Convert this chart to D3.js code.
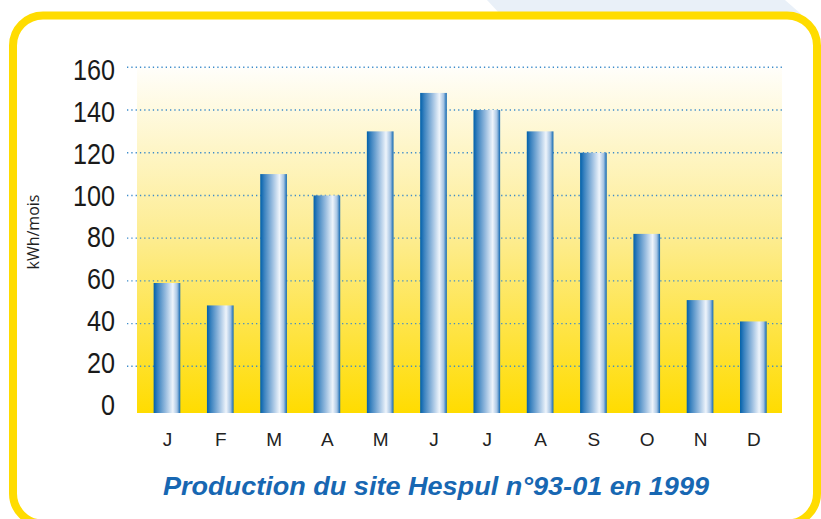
<!DOCTYPE html>
<html>
<head>
<meta charset="utf-8">
<script src="https://cdn.jsdelivr.net/npm/d3@7"></script>
<style>
  html, body { margin: 0; padding: 0; background: #fff; }
  svg { display: block; }
</style>
</head>
<body>
<svg id="chart" width="821" height="519"></svg>
<script>
const months = ['J', 'F', 'M', 'A', 'M', 'J', 'J', 'A', 'S', 'O', 'N', 'D'];
const production = [59, 48.5, 110, 100, 130, 148, 140, 130, 120, 82, 51, 41];
const yTicks = [0, 20, 40, 60, 80, 100, 120, 140, 160];
const yLabel = 'kWh/mois';
const title = 'Production du site Hespul n°93-01 en 1999';

const svg = d3.select('#chart');
const defs = svg.append('defs');

// panel gradient: white at top to yellow at the bottom
const bg = defs.append('linearGradient')
    .attr('id', 'panelGrad')
    .attr('x1', 0).attr('y1', 0).attr('x2', 0).attr('y2', 1);
bg.append('stop').attr('offset', '0%').attr('stop-color', '#fffefa');
bg.append('stop').attr('offset', '50%').attr('stop-color', '#fdec8e');
bg.append('stop').attr('offset', '100%').attr('stop-color', '#ffdc00');

// cylinder look for the bars
const barGrad = defs.append('linearGradient')
    .attr('id', 'barGrad')
    .attr('x1', 0).attr('y1', 0).attr('x2', 1).attr('y2', 0);
[['0%', '#0060aa'], ['15%', '#3a82bf'], ['45%', '#98bcdf'],
 ['72%', '#eef4fb'], ['88%', '#a6c4e3'], ['100%', '#0f66b0']]
    .forEach(s => barGrad.append('stop').attr('offset', s[0]).attr('stop-color', s[1]));

// light blue shape behind the frame, top right
svg.append('polygon')
    .attr('points', '487,0 785,0 801,14 500,14')
    .attr('fill', '#e9f0f8');

// yellow rounded frame
svg.append('rect')
    .attr('x', 13).attr('y', 15.5)
    .attr('width', 804).attr('height', 508)
    .attr('rx', 30).attr('ry', 30)
    .attr('fill', '#fff')
    .attr('stroke', '#ffdc00')
    .attr('stroke-width', 8);

const panel = { left: 137, right: 782, top: 68, bottom: 413 };

const x = d3.scalePoint()
    .domain(d3.range(months.length))
    .range([140.3, 780])
    .padding(0.5);
const barW = x.step() * 0.5;

const y = d3.scaleLinear()
    .domain([0, 160])
    .range([409, 67.3]);

svg.append('rect')
    .attr('x', panel.left).attr('y', panel.top)
    .attr('width', panel.right - panel.left)
    .attr('height', panel.bottom - panel.top)
    .attr('fill', 'url(#panelGrad)');

// dotted grid lines
svg.append('g')
    .selectAll('line')
    .data(yTicks.filter(d => d > 0))
    .join('line')
    .attr('x1', 127).attr('x2', panel.right)
    .attr('y1', d => y(d)).attr('y2', d => y(d))
    .attr('stroke', '#3d8cca')
    .attr('stroke-width', 1.4)
    .attr('stroke-dasharray', '1.3 3');

// bars
svg.append('g')
    .selectAll('rect')
    .data(production)
    .join('rect')
    .attr('x', (d, i) => x(i) - barW / 2)
    .attr('y', d => y(d))
    .attr('width', barW)
    .attr('height', d => panel.bottom - y(d))
    .attr('fill', 'url(#barGrad)');

// y axis labels (narrow digits, like the original)
const yAxis = d3.axisLeft(y).tickValues(yTicks).tickSize(0).tickPadding(0);
const gy = svg.append('g')
    .attr('transform', 'translate(115,0)')
    .call(yAxis);
gy.select('.domain').remove();
gy.selectAll('text')
    .attr('font-family', '"Liberation Sans", sans-serif')
    .attr('font-size', 29)
    .attr('fill', '#1a1a1a')
    .attr('dy', d => (0.18 + d / 670) + 'em')
    .attr('textLength', d => String(d).length * 14)
    .attr('lengthAdjust', 'spacingAndGlyphs');

// x axis labels
const xAxis = d3.axisBottom(x).tickFormat(i => months[i]).tickSize(0).tickPadding(0);
const gx = svg.append('g')
    .attr('transform', 'translate(0,432)')
    .call(xAxis);
gx.select('.domain').remove();
gx.selectAll('text')
    .attr('font-family', '"Liberation Sans", sans-serif')
    .attr('font-size', 19)
    .attr('fill', '#222');

svg.append('text')
    .attr('transform', 'translate(39,232) rotate(-90)')
    .attr('text-anchor', 'middle')
    .attr('font-family', '"Open Sans", sans-serif')
    .attr('font-size', 16)
    .attr('fill', '#222')
    .text(yLabel);

svg.append('text')
    .attr('x', 436).attr('y', 495)
    .attr('text-anchor', 'middle')
    .attr('font-family', '"Liberation Sans", sans-serif')
    .attr('font-size', 25)
    .attr('font-weight', 'bold')
    .attr('font-style', 'italic')
    .attr('fill', '#1767b2')
    .attr('textLength', 546)
    .attr('lengthAdjust', 'spacingAndGlyphs')
    .text(title);
</script>
</body>
</html>
